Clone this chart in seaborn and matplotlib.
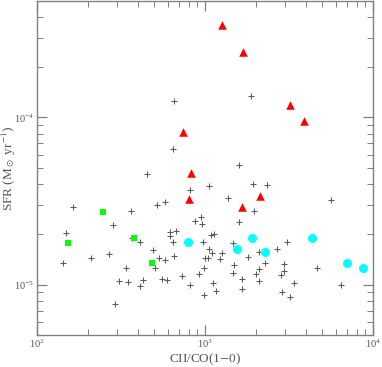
import numpy as np
import pandas as pd
import seaborn as sns
import matplotlib
matplotlib.use('Agg')
import matplotlib.pyplot as plt
from matplotlib.ticker import NullFormatter


# full sample (grey crosses)
all_ratio = [163, 361, 149, 285, 366, 410, 516, 492, 269, 210, 143, 502, 339, 309,
             347, 425, 410, 291, 811, 1061, 1923, 578, 1365, 1963, 868, 951, 956,
             1583, 622, 672, 619, 1081, 1136, 645, 969, 1472, 1056, 1096, 1257, 658,
             1000, 1046, 1233, 1791, 2087, 535, 576, 1488, 982, 927, 731, 1468, 2105,
             2004, 558, 597, 1667, 1120, 811, 2090, 1650, 1163, 989, 2349, 5647, 3090,
             2683, 2282, 2960, 2965, 2834, 4673, 3364, 6423, 2873, 3206, 657, 1891,
             642, 1587, 453]
all_sfr = [2.91e-5, 2.74e-5, 2.04e-5, 2.26e-5, 1.91e-5, 1.81e-5, 3.00e-5, 1.62e-5,
           1.53e-5, 1.45e-5, 1.34e-5, 1.25e-5, 1.26e-5, 1.05e-5, 1.04e-5, 1.07e-5,
           9.8e-6, 7.7e-6, 3.67e-5, 3.88e-5, 3.99e-5, 3.14e-5, 3.29e-5, 2.77e-5,
           2.40e-5, 2.53e-5, 2.32e-5, 2.36e-5, 2.07e-5, 2.09e-5, 1.96e-5, 1.97e-5,
           2.02e-5, 1.80e-5, 1.80e-5, 1.78e-5, 1.63e-5, 1.55e-5, 1.55e-5, 1.48e-5,
           1.45e-5, 1.45e-5, 1.42e-5, 1.47e-5, 1.56e-5, 1.44e-5, 1.40e-5, 1.31e-5,
           1.25e-5, 1.16e-5, 1.13e-5, 1.17e-5, 1.24e-5, 1.16e-5, 1.08e-5, 1.07e-5,
           1.08e-5, 1.03e-5, 1.0e-5, 1.05e-5, 9.4e-6, 9.15e-6, 8.65e-6, 3.93e-5,
           3.20e-5, 1.79e-5, 1.64e-5, 1.34e-5, 1.32e-5, 1.21e-5, 1.15e-5, 1.25e-5,
           1.03e-5, 9.97e-6, 8.99e-6, 8.45e-6, 1.25e-4, 1.35e-4, 6.43e-5, 5.18e-5,
           4.56e-5]

# highlighted groups
tri_ratio = [1268, 1690, 3206, 3883, 736, 822, 804, 2124, 1667]
tri_sfr = [3.57e-4, 2.47e-4, 1.19e-4, 9.55e-5, 8.2e-5, 4.63e-5, 3.24e-5, 3.40e-5, 2.92e-5]

sq_ratio = [153, 246, 378, 486]
sq_sfr = [1.78e-5, 2.72e-5, 1.89e-5, 1.34e-5]

circ_ratio = [796, 1541, 1897, 2276, 4315, 7030, 8675]
circ_sfr = [1.81e-5, 1.64e-5, 1.90e-5, 1.56e-5, 1.91e-5, 1.34e-5, 1.26e-5]


sns.set_style('ticks')
plt.rcParams['font.family'] = ['Liberation Serif', 'DejaVu Serif']
plt.rcParams['mathtext.fontset'] = 'stix'

fig = plt.figure(figsize=(3.82, 3.67), dpi=100)
ax = fig.add_axes([37 / 382, 32 / 367, 336 / 382, 334.5 / 367])

sns.scatterplot(x=all_ratio, y=all_sfr, marker='+', s=22, color='#5a5a5a',
                linewidth=0.75, ax=ax, zorder=2)
sns.scatterplot(x=sq_ratio, y=sq_sfr, marker='s', s=24, color='#00ff00',
                linewidth=0, ax=ax, zorder=3)
sns.scatterplot(x=circ_ratio, y=circ_sfr, marker='o', s=42, color='#00ffff',
                linewidth=0, ax=ax, zorder=3)
sns.scatterplot(x=tri_ratio, y=tri_sfr, marker='^', s=38, color='#ff0000',
                linewidth=0, ax=ax, zorder=4)

ax.set_xscale('log')
ax.set_yscale('log')
ax.set_xlim(100, 10000)
ax.set_ylim(5e-6, 5e-4)
ax.yaxis.set_minor_formatter(NullFormatter())
ax.xaxis.set_minor_formatter(NullFormatter())

for s in ax.spines.values():
    s.set_color('#808080')
    s.set_linewidth(1.0)
ax.tick_params(which='both', direction='in', top=True, right=True, colors='#808080',
               labelcolor='#555555', labelsize=7.5)
ax.tick_params(which='major', length=7, width=0.9, pad=2)
ax.tick_params(which='minor', length=4, width=0.7)

ax.set_xlabel('CII/CO(1$-$0)', fontsize=9.5, color='#555555')
ax.set_ylabel(r'SFR (M$_\odot$ yr$^{-1}$)', fontsize=9.5, color='#555555')
ax.xaxis.set_label_coords(0.5, -0.05)
ax.yaxis.set_label_coords(-0.058, 0.5)

fig.savefig('out.png', dpi=100)
